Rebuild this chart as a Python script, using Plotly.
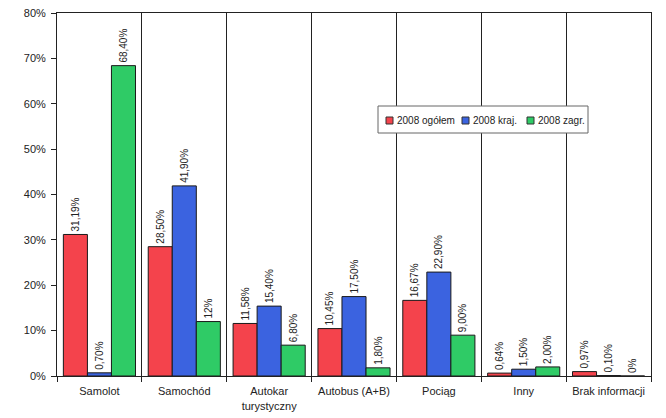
import plotly.graph_objects as go

categories = ["Samolot", "Samochód", "Autokar<br>turystyczny", "Autobus (A+B)", "Pociąg", "Inny", "Brak informacji"]
ogolem = [31.19, 28.50, 11.58, 10.45, 16.67, 0.64, 0.97]
kraj = [0.70, 41.90, 15.40, 17.50, 22.90, 1.50, 0.10]
zagr = [68.40, 12.00, 6.80, 1.80, 9.00, 2.00, 0.00]
ogolem_txt = ["31,19%", "28,50%", "11,58%", "10,45%", "16,67%", "0,64%", "0,97%"]
kraj_txt = ["0,70%", "41,90%", "15,40%", "17,50%", "22,90%", "1,50%", "0,10%"]
zagr_txt = ["68,40%", "12%", "6,80%", "1,80%", "9,00%", "2,00%", "0%"]
series_names = ["2008 ogółem", "2008 kraj.", "2008 zagr."]
colors = ["#f4434c", "#3b63e0", "#2fcb66"]
y_ticks = [0, 10, 20, 30, 40, 50, 60, 70, 80]

FONT = "Liberation Sans, Arial, sans-serif"
TXT = "#222222"
x = list(range(len(categories)))

# page body adds an 8px offset; figure sized to fit the 666x418 window
W, H = 658, 410
ML, MR, MT, MB = 49, 15, 5, 42
PW, PH = W - ML - MR, H - MT - MB


def px_x(p):  # window pixel -> paper x
    return (p - 8 - ML) / PW


def px_y(p):  # window pixel -> paper y
    return (H - MB - (p - 8)) / PH


fig = go.Figure()
for name, vals, txt, col in zip(series_names, [ogolem, kraj, zagr], [ogolem_txt, kraj_txt, zagr_txt], colors):
    fig.add_trace(go.Bar(
        x=x, y=vals, name=name, text=txt,
        textposition="outside", textangle=-90, constraintext="none",
        cliponaxis=False, showlegend=False,
        textfont=dict(family=FONT, size=10, color=TXT),
        marker=dict(color=col, line=dict(color="#1a1a1a", width=1)),
    ))

# manual legend box (styled like the reference)
shapes = [dict(type="rect", xref="paper", yref="paper",
               x0=px_x(378), x1=px_x(588), y0=px_y(133), y1=px_y(106),
               line=dict(color="#666666", width=1), fillcolor="white", layer="above")]
annotations = []
sq_x = [386, 462, 527]
for sx, name, col in zip(sq_x, series_names, colors):
    shapes.append(dict(type="rect", xref="paper", yref="paper",
                       x0=px_x(sx), x1=px_x(sx + 7), y0=px_y(124), y1=px_y(117),
                       line=dict(color="#333333", width=1), fillcolor=col, layer="above"))
    annotations.append(dict(xref="paper", yref="paper", x=px_x(sx + 9), y=px_y(120.5),
                            xanchor="left", yanchor="middle", showarrow=False, text=name,
                            font=dict(family=FONT, size=10, color=TXT)))

fig.update_layout(
    width=W, height=H,
    margin=dict(l=ML, r=MR, t=MT, b=MB, autoexpand=False),
    paper_bgcolor="white", plot_bgcolor="white",
    barmode="group", bargap=0.15, bargroupgap=0,
    font=dict(family=FONT, size=11, color=TXT),
    showlegend=False,
    shapes=shapes, annotations=annotations,
)
fig.update_xaxes(
    range=[-0.5, len(categories) - 0.5],
    tickmode="array", tickvals=x, ticktext=categories,
    ticks="outside", ticklen=5, tickcolor="rgba(0,0,0,0)",
    showgrid=False, automargin=False,
    showline=True, linecolor="#222222", linewidth=1, mirror=True,
    minor=dict(tick0=0.5, dtick=1, showgrid=True, gridcolor="#222222", gridwidth=1,
               ticks="outside", ticklen=5, tickcolor="#222222"),
    tickfont=dict(family=FONT, size=11, color=TXT),
    zeroline=False,
)
fig.update_yaxes(
    range=[0, 80], tickmode="array", tickvals=y_ticks,
    ticktext=[f"{v}%" for v in y_ticks],
    ticks="outside", ticklen=5, tickcolor="#222222",
    ticklabelstandoff=3, ticklabeloverflow="allow",
    showgrid=False, zeroline=False, automargin=False,
    showline=True, linecolor="#222222", linewidth=1, mirror=True,
    tickfont=dict(family=FONT, size=11, color=TXT),
)

fig.write_html("out.html")
